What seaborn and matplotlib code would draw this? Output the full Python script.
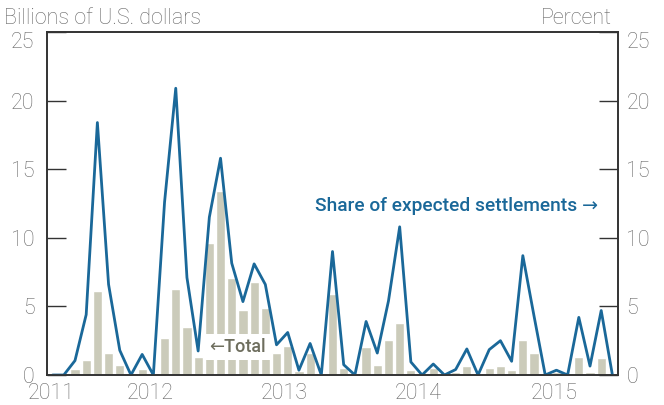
import matplotlib
matplotlib.use("Agg")
import matplotlib.pyplot as plt
import numpy as np
import pandas as pd
import seaborn as sns

# monthly data, May 2011 - Jul 2015
total_bn = [0.0, 0.0, 0.45, 1.1, 6.15, 1.6, 0.75, 0.0, 0.45, 0.0,
            2.7, 6.3, 3.5, 1.3, 9.6, 13.4, 7.1, 4.75, 6.8, 4.9,
            1.6, 2.15, 0.3, 1.6, 0.0, 5.9, 0.5, 0.0, 2.05, 0.75,
            2.55, 3.8, 0.4, 0.1, 0.5, 0.0, 0.25, 0.65, 0.0, 0.5,
            0.65, 0.4, 2.55, 1.6, 0.0, 0.25, 0.0, 1.3, 0.2, 1.25, 0.0]
share_pct = [0.0, 0.0, 1.05, 4.4, 18.4, 6.6, 1.8, 0.0, 1.5, 0.0,
             12.6, 20.9, 7.1, 1.75, 11.5, 15.8, 8.15, 5.35, 8.1, 6.6,
             2.2, 3.1, 0.35, 2.3, 0.0, 9.0, 0.75, 0.0, 3.9, 1.6,
             5.4, 10.8, 0.95, 0.0, 0.8, 0.0, 0.4, 1.9, 0.0, 1.85,
             2.5, 1.0, 8.7, 4.3, 0.0, 0.35, 0.0, 4.2, 0.65, 4.7, 0.0]
year_labels = ["2011", "2012", "2013", "2014", "2015"]
year_pos = [-0.1, 8.7, 20.7, 32.7, 44.8]
y_ticks = [0, 5, 10, 15, 20, 25]

BAR = "#cbcbba"
BLUE = "#1a6899"
GREY = "#666666"
FS = 15.5

sns.set_style("white")
plt.rcParams["font.family"] = ["Roboto", "DejaVu Sans"]
plt.rcParams["font.weight"] = "light"

df = pd.DataFrame({"month": np.arange(len(total_bn)), "total": total_bn, "share": share_pct})

fig = plt.figure(figsize=(6.64, 4.05), dpi=100)
ax = fig.add_axes([47 / 664, 1 - 375 / 405, (618 - 47) / 664, (375 - 32) / 405])

sns.barplot(data=df, x="month", y="total", color=BAR, width=0.82, saturation=1,
            native_scale=True, ax=ax)

ax2 = ax.twinx()
sns.lineplot(data=df, x="month", y="share", color=BLUE, linewidth=2.0, ax=ax2)

# the top "25" is drawn separately, hanging below the frame line
tick_text = [str(t) if t != y_ticks[-1] else "" for t in y_ticks]
for a in (ax, ax2):
    a.set_xlim(-0.5, len(total_bn) - 0.5)
    a.set_ylim(0, 25)
    a.set_yticks(y_ticks, tick_text)
    a.set_xlabel("")
    a.set_ylabel("")
    for s in a.spines.values():
        s.set_color("#333333")
        s.set_linewidth(1.2)

ax.tick_params(axis="y", direction="in", length=14, width=1, color="#333333",
               labelsize=FS, labelcolor=GREY, pad=9)
ax2.tick_params(axis="y", direction="in", length=14, width=1, color="#333333",
                labelsize=FS, labelcolor=GREY, pad=6)
ax.set_xticks(year_pos, year_labels)
ax.set_xticks(np.arange(0.5, len(total_bn) - 1, 1), minor=True)
ax.tick_params(axis="x", which="major", length=0, labelsize=FS, labelcolor=GREY, pad=5.5)
ax.tick_params(axis="x", which="minor", direction="in", length=5, width=1, color="#333333")
ax2.tick_params(axis="x", which="both", length=0)

ax.annotate(str(y_ticks[-1]), xy=(0, y_ticks[-1]), xycoords=("axes fraction", "data"),
            xytext=(-9, 0), textcoords="offset points", ha="right", va="top",
            fontsize=FS, color=GREY)
ax2.annotate(str(y_ticks[-1]), xy=(1, y_ticks[-1]), xycoords=("axes fraction", "data"),
             xytext=(6, 0), textcoords="offset points", ha="left", va="top",
             fontsize=FS, color=GREY)

fig.text(4 / 664, 1 - 18 / 405, "Billions of U.S. dollars", fontsize=FS,
         color=GREY, va="center", ha="left")
fig.text(612 / 664, 1 - 18 / 405, "Percent", fontsize=FS,
         color=GREY, va="center", ha="right")

ax2.text(23.4, 12.3, "Share of expected settlements \u2192", color=BLUE,
         fontsize=13.8, fontweight="medium", va="center", ha="left")
ax2.text(14.0, 2.05, "\u2190Total", color="#6e6e5e", fontsize=13, fontweight="medium",
         va="center", ha="left",
         bbox=dict(facecolor="white", edgecolor="none", pad=3))

fig.savefig("out.png", dpi=100)
